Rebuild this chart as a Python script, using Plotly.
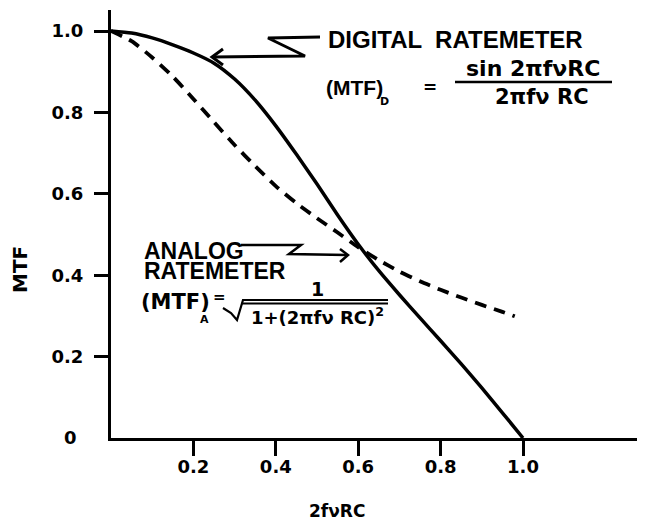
import plotly.graph_objects as go

# ---- data ----
x_digital = [0.0, 0.05, 0.1, 0.15, 0.2, 0.25, 0.3, 0.35, 0.4, 0.45, 0.5,
             0.55, 0.6, 0.65, 0.7, 0.75, 0.8, 0.85, 0.9, 0.95, 1.0]
mtf_digital = [1.0, 0.995, 0.983, 0.966, 0.946, 0.921, 0.882, 0.83, 0.767, 0.697, 0.624,
               0.548, 0.476, 0.411, 0.352, 0.295, 0.239, 0.182, 0.123, 0.062, 0.0]

x_analog = [0.0, 0.05, 0.1, 0.15, 0.2, 0.25, 0.3, 0.35, 0.4, 0.45, 0.5,
            0.55, 0.6, 0.65, 0.7, 0.75, 0.8, 0.85, 0.9, 0.95, 0.98]
mtf_analog = [1.0, 0.975, 0.935, 0.888, 0.833, 0.776, 0.72, 0.668, 0.619, 0.577, 0.54,
              0.505, 0.469, 0.437, 0.409, 0.385, 0.364, 0.345, 0.327, 0.31, 0.299]

x_ticks = [0.2, 0.4, 0.6, 0.8, 1.0]
x_tick_labels = ["0.2", "0.4", "0.6", "0.8", "1.0"]
y_ticks = [0.2, 0.4, 0.6, 0.8, 1.0]
y_tick_labels = ["0.2", "0.4", "0.6", "0.8", "1.0"]

FONT = "DejaVu Sans"
NARROW = "Liberation Sans"
INK = "black"

# page pixel -> paper helpers for decorations (plot area on page: px 111..640, 10..438)
def X(p):
    return (p - 111) / 529.0

def Y(p):
    return (438 - p) / 428.0

fig = go.Figure()
fig.add_trace(go.Scatter(x=x_analog, y=mtf_analog, mode="lines",
                         line=dict(color=INK, width=3.8, dash="12px,8px",
                                   shape="spline", smoothing=0.6),
                         showlegend=False, hoverinfo="skip"))
fig.add_trace(go.Scatter(x=x_digital, y=mtf_digital, mode="lines",
                         line=dict(color=INK, width=3.5, shape="spline", smoothing=0.6),
                         showlegend=False, hoverinfo="skip"))

annotations = []

def txt(text, px, py, size, xanchor="center", yanchor="middle", angle=0, family=FONT):
    annotations.append(dict(text=text, x=X(px), y=Y(py), xref="paper", yref="paper",
                            showarrow=False, xanchor=xanchor, yanchor=yanchor,
                            textangle=angle,
                            font=dict(family=family, size=size, color=INK, weight="bold")))

# digital label + formula
txt("DIGITAL  RATEMETER", 326, 40, 24, xanchor="left", family=NARROW)
txt("(MTF)", 324, 87, 21, xanchor="left", family=NARROW)
txt("D", 384, 101, 11)
txt("=", 430, 87, 17)
txt("sin 2πfνRC", 533, 69, 22)
txt("2πfν RC", 542, 97, 21)

# analog label + formula
txt("ANALOG", 142, 251, 23, xanchor="left", family=NARROW)
txt("RATEMETER", 142, 271, 23, xanchor="left", family=NARROW)
txt("(MTF)", 139, 302, 21, xanchor="left")
txt("A", 204, 319, 11)
txt("=", 219, 297, 15)
txt("1", 317, 289, 19)
txt("1+(2πfν RC)<sup>2</sup>", 317, 316, 18)

# axis titles and the "0" label
txt("MTF", 20, 270, 20, angle=-90)
txt("2fνRC", 337, 511, 17)
txt("0", 70, 437, 18)

shapes = []

def path(points, width=2.5):
    d = "M " + " L ".join(f"{X(a):.5f},{Y(b):.5f}" for a, b in points)
    shapes.append(dict(type="path", path=d, xref="paper", yref="paper",
                       line=dict(color=INK, width=width)))

# digital zig-zag arrow
path([(320, 37), (268, 38), (305, 56), (213, 57)], 3)
path([(223, 49), (212, 57), (223, 65)], 3)
# digital fraction bar
path([(455, 82), (612, 82)], 2.5)

# analog zig-zag arrow
path([(241, 245), (301, 245), (289, 254), (347, 255)], 2.5)
path([(340, 249), (348, 255), (340, 262)], 2.5)
# radical sign and double bar
path([(223, 308), (231, 313), (237, 320), (243, 300), (388, 300)], 2.2)
path([(242, 303.5), (388, 303.5)], 2.2)

# the page body has an 8px margin, so the figure is sized/offset to compensate
fig.update_layout(
    width=637, height=515,
    margin=dict(l=103, r=5, t=2, b=85),
    paper_bgcolor="white", plot_bgcolor="white",
    annotations=annotations, shapes=shapes,
    xaxis=dict(range=[0, 529 / 412.0], showgrid=False, zeroline=False,
               showline=True, linecolor=INK, linewidth=3,
               tickmode="array", tickvals=x_ticks, ticktext=x_tick_labels,
               ticks="outside", ticklen=15, tickwidth=2.5, tickcolor=INK,
               ticklabelstandoff=-5,
               tickfont=dict(family=FONT, size=18, color=INK, weight="bold")),
    yaxis=dict(range=[0, 428 / 407.0], showgrid=False, zeroline=False,
               showline=True, linecolor=INK, linewidth=3,
               tickmode="array", tickvals=y_ticks, ticktext=y_tick_labels,
               ticks="outside", ticklen=14, tickwidth=2.5, tickcolor=INK,
               ticklabelstandoff=7,
               tickfont=dict(family=FONT, size=18, color=INK, weight="bold")),
)

fig.write_html("out.html")
